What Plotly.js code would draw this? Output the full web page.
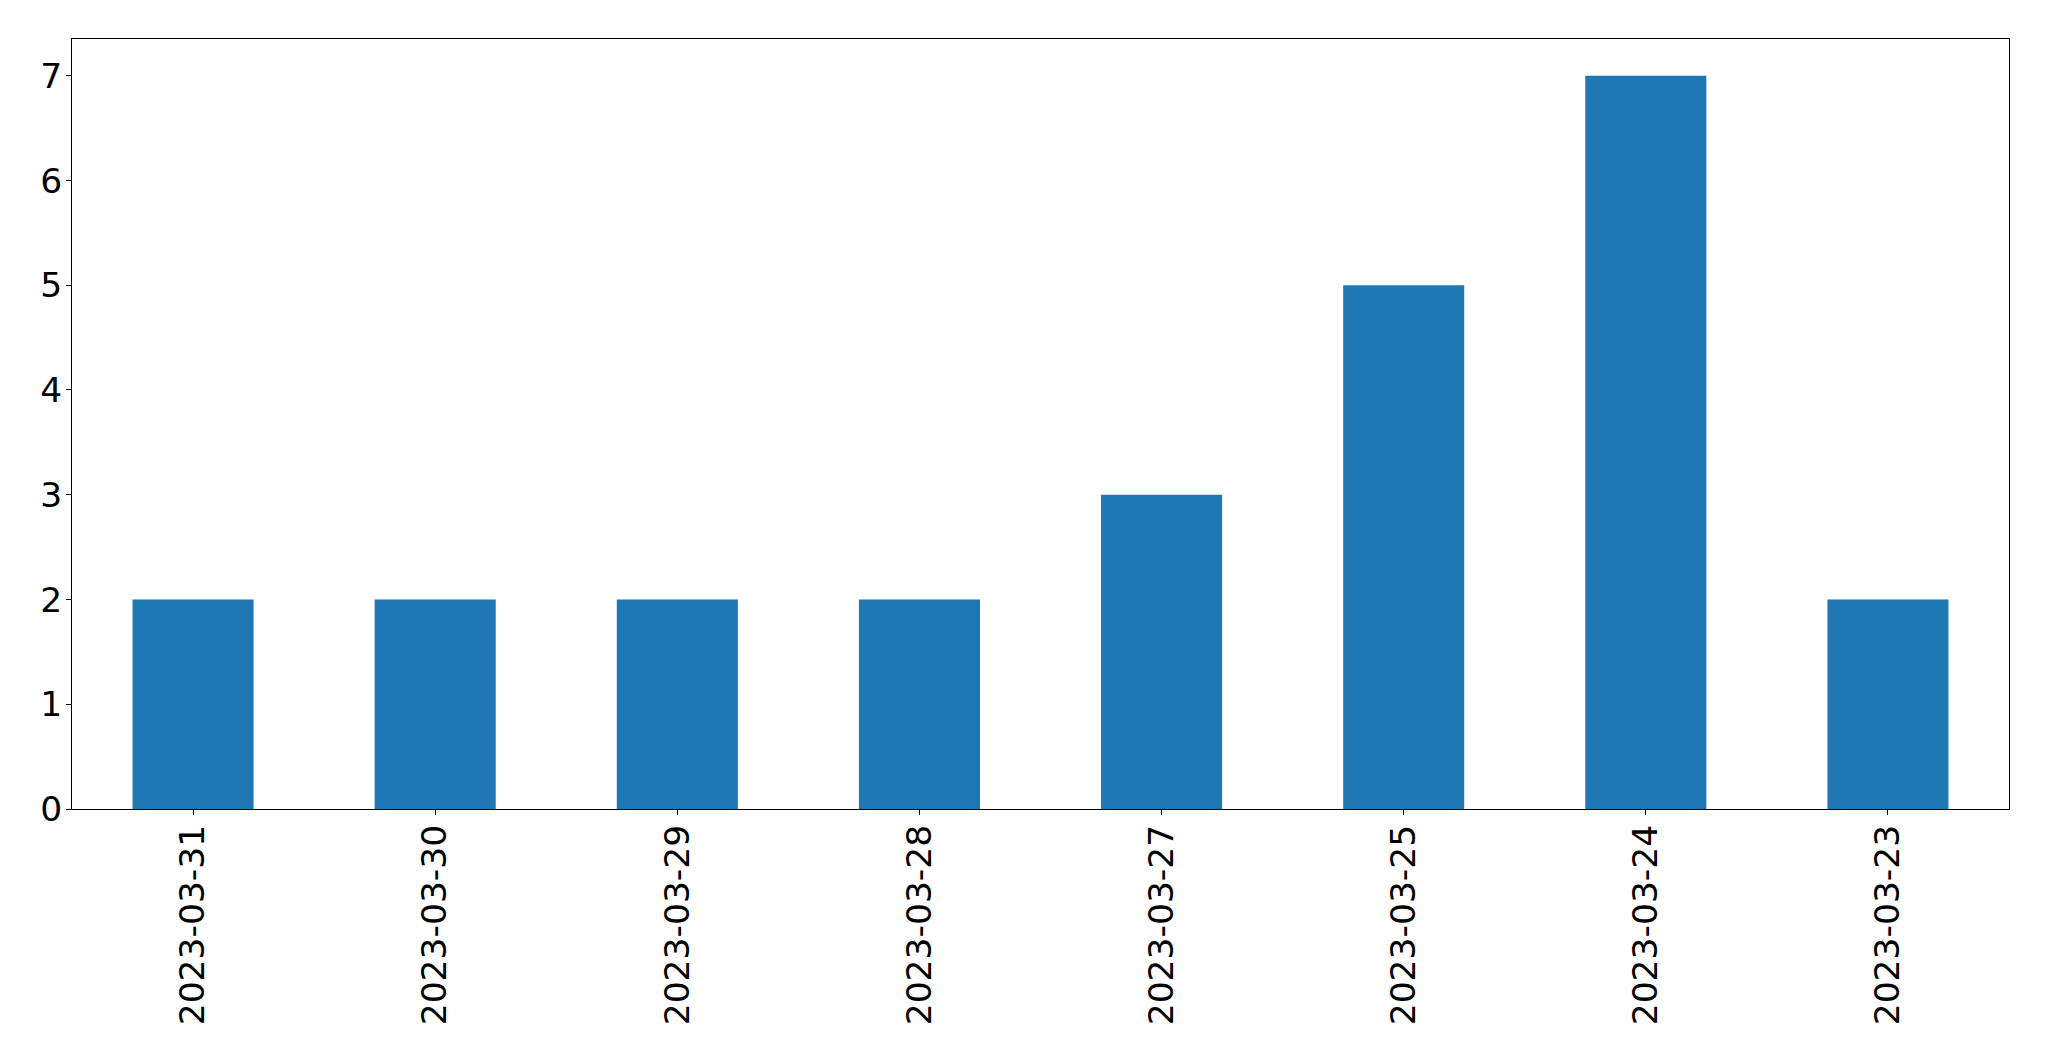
<!DOCTYPE html>
<html>
<head>
<meta charset="utf-8">
<script src="https://cdn.plot.ly/plotly-3.0.1.min.js"></script>
<style>html,body{margin:0;padding:0;background:#fff;}#chart{width:2049px;height:1061px;}</style>
</head>
<body>
<div id="chart"></div>
<script>
const categories = ["2023-03-31", "2023-03-30", "2023-03-29", "2023-03-28", "2023-03-27", "2023-03-25", "2023-03-24", "2023-03-23"];
const counts = [2, 2, 2, 2, 3, 5, 7, 2];
const yTicks = [0, 1, 2, 3, 4, 5, 6, 7];

const trace = {
  type: 'bar',
  x: categories,
  y: counts,
  width: 0.5,
  marker: {color: '#1f77b4', line: {width: 0}},
  hoverinfo: 'x+y'
};

const axisFont = {family: 'DejaVu Sans, sans-serif', size: 34.5, color: '#000'};

const layout = {
  width: 2049,
  height: 1061,
  margin: {l: 72, r: 40, t: 39, b: 252, pad: 0},
  paper_bgcolor: '#fff',
  plot_bgcolor: '#fff',
  showlegend: false,
  bargap: 0.5,
  xaxis: {
    type: 'category',
    range: [-0.5, categories.length - 0.5],
    tickangle: -90,
    tickfont: axisFont,
    ticks: 'outside',
    ticklen: 5,
    tickwidth: 1,
    tickcolor: '#000',
    showline: true,
    linecolor: '#000',
    linewidth: 1,
    mirror: true,
    showgrid: false,
    zeroline: false,
    automargin: false,
    ticklabelstandoff: -4
  },
  yaxis: {
    range: [0, 7.35],
    tickvals: yTicks,
    ticktext: yTicks.map(String),
    tickfont: axisFont,
    ticks: 'outside',
    ticklen: 5,
    tickwidth: 1,
    tickcolor: '#000',
    showline: true,
    linecolor: '#000',
    linewidth: 1,
    mirror: true,
    showgrid: false,
    zeroline: false,
    automargin: false,
    ticklabelstandoff: -3
  }
};

Plotly.newPlot('chart', [trace], layout, {displayModeBar: false, staticPlot: true});
</script>
</body>
</html>
